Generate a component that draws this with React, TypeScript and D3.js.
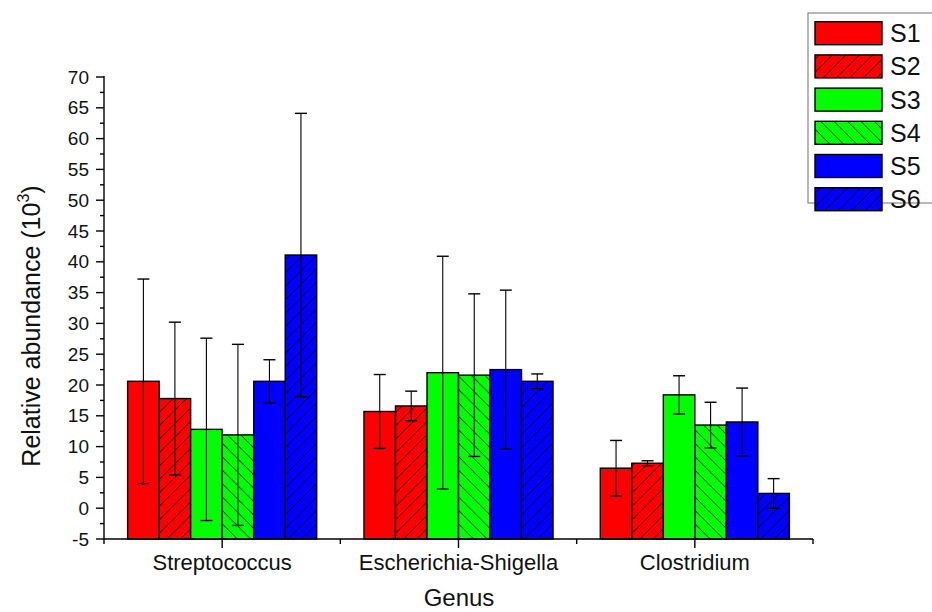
import React from "react";
import * as d3 from "d3";

// Genera on the x axis and sample series
const genera = ["Streptococcus", "Escherichia-Shigella", "Clostridium"];
const samples = ["S1", "S2", "S3", "S4", "S5", "S6"];

// Mean relative abundance (10^3) per sample, one array per genus
const streptococcusMean = [20.6, 17.8, 12.8, 11.9, 20.6, 41.1];
const escherichiaMean = [15.7, 16.6, 22.0, 21.6, 22.5, 20.6];
const clostridiumMean = [6.5, 7.3, 18.4, 13.5, 14.0, 2.4];

// Standard deviations for the error bars
const streptococcusSd = [16.6, 12.4, 14.8, 14.7, 3.5, 23.0];
const escherichiaSd = [6.0, 2.4, 18.9, 13.2, 12.9, 1.2];
const clostridiumSd = [4.5, 0.4, 3.1, 3.7, 5.5, 2.4];

const yTicks = [-5, 0, 5, 10, 15, 20, 25, 30, 35, 40, 45, 50, 55, 60, 65, 70];

const means = [streptococcusMean, escherichiaMean, clostridiumMean];
const sds = [streptococcusSd, escherichiaSd, clostridiumSd];

const colors = ["#FF0000", "#FF0000", "#00FF00", "#00FF00", "#0000FF", "#0000FF"];
// hatch direction per sample: 0 = solid, 1 = "/", -1 = "\"
const hatch = [0, 1, 0, -1, 0, 1];

const FONT = "'Liberation Sans', Arial, sans-serif";

export default function App() {
  const left = 104;
  const right = 813;
  const top = 77;
  const bottom = 539;

  const x = d3
    .scaleBand<string>()
    .domain(genera)
    .range([left, right])
    .paddingInner(0.2)
    .paddingOuter(0.1);
  const xs = d3.scaleBand<string>().domain(samples).range([0, x.bandwidth()]);
  const y = d3.scaleLinear().domain([-5, 70]).range([bottom, top]);

  const step = x.step();
  const minorY = d3.range(-2.5, 70, 5);
  const xMinor = [0, 1, 2, 3].map((i) => left + i * step);

  const patternId = (i: number) => `hatch-${samples[i]}`;
  const fillFor = (i: number) => (hatch[i] === 0 ? colors[i] : `url(#${patternId(i)})`);

  return (
    <svg
      width={932}
      height={612}
      style={{ position: "absolute", left: 0, top: 0, background: "#fff" }}
      fontFamily={FONT}
    >
      <defs>
        {samples.map((s, i) =>
          hatch[i] === 0 ? null : (
            <pattern
              key={s}
              id={patternId(i)}
              patternUnits="userSpaceOnUse"
              width={9.5}
              height={9.5}
              patternTransform={`rotate(${hatch[i] * 45})`}
            >
              <rect width={9.5} height={9.5} fill={colors[i]} />
              <line x1={0} y1={0} x2={0} y2={9.5} stroke="#000" strokeWidth={1.2} />
            </pattern>
          )
        )}
      </defs>

      {/* bars */}
      {genera.map((g, gi) => (
        <g key={g} transform={`translate(${x(g)},0)`}>
          {samples.map((s, si) => {
            const v = means[gi][si];
            return (
              <rect
                key={s}
                x={xs(s)}
                y={y(v)}
                width={xs.bandwidth()}
                height={y(-5) - y(v)}
                fill={fillFor(si)}
                stroke="#000"
                strokeWidth={1.4}
              />
            );
          })}
        </g>
      ))}

      {/* error bars */}
      {genera.map((g, gi) => (
        <g key={g} transform={`translate(${x(g)},0)`} stroke="#000" strokeWidth={1.1}>
          {samples.map((s, si) => {
            const cx = (xs(s) as number) + xs.bandwidth() / 2;
            const hi = y(means[gi][si] + sds[gi][si]);
            const lo = y(means[gi][si] - sds[gi][si]);
            return (
              <g key={s}>
                <line x1={cx} x2={cx} y1={hi} y2={lo} />
                <line x1={cx - 6} x2={cx + 6} y1={hi} y2={hi} strokeWidth={1.4} />
                <line x1={cx - 6} x2={cx + 6} y1={lo} y2={lo} strokeWidth={1.4} />
              </g>
            );
          })}
        </g>
      ))}

      {/* y axis */}
      <g stroke="#000" strokeWidth={1.4}>
        <line x1={left} x2={left} y1={top - 1} y2={bottom} />
        {yTicks.map((t) => (
          <line key={t} x1={left - 8} x2={left} y1={y(t)} y2={y(t)} />
        ))}
        {minorY.map((t) => (
          <line key={t} x1={left - 4} x2={left} y1={y(t)} y2={y(t)} />
        ))}
      </g>
      {yTicks.map((t) => (
        <text
          key={t}
          x={left - 15}
          y={y(t)}
          dy="0.35em"
          textAnchor="end"
          fontSize={19}
          fill="#111"
        >
          {t}
        </text>
      ))}

      {/* x axis */}
      <g stroke="#000" strokeWidth={1.4}>
        <line x1={left} x2={right} y1={bottom} y2={bottom} />
        {genera.map((g) => {
          const cx = (x(g) as number) + x.bandwidth() / 2;
          return <line key={g} x1={cx} x2={cx} y1={bottom} y2={bottom + 9} />;
        })}
        {xMinor.map((mx, i) => (
          <line key={i} x1={mx} x2={mx} y1={bottom} y2={bottom + 5} />
        ))}
      </g>
      {genera.map((g) => (
        <text
          key={g}
          x={(x(g) as number) + x.bandwidth() / 2}
          y={570}
          textAnchor="middle"
          fontSize={22}
          fill="#111"
        >
          {g}
        </text>
      ))}

      {/* axis titles */}
      <text x={459} y={606} textAnchor="middle" fontSize={24} fill="#111">
        Genus
      </text>
      <text
        transform={`translate(40,326) rotate(-90)`}
        textAnchor="middle"
        fontSize={25}
        fill="#111"
      >
        Relative abundance (10
        <tspan fontSize={16} dy={-11}>
          3
        </tspan>
        <tspan dy={11}>)</tspan>
      </text>

      {/* legend */}
      <rect x={808} y={13} width={200} height={190} fill="#fff" stroke="#888" strokeWidth={1.2} />
      {samples.map((s, i) => {
        const ly = 21.7 + i * 33.2;
        return (
          <g key={s}>
            <rect
              x={815}
              y={ly}
              width={67}
              height={23}
              fill={fillFor(i)}
              stroke="#000"
              strokeWidth={1.4}
            />
            <text x={890} y={ly + 11.5} dy="0.36em" fontSize={25} fill="#111">
              {s}
            </text>
          </g>
        );
      })}
    </svg>
  );
}
